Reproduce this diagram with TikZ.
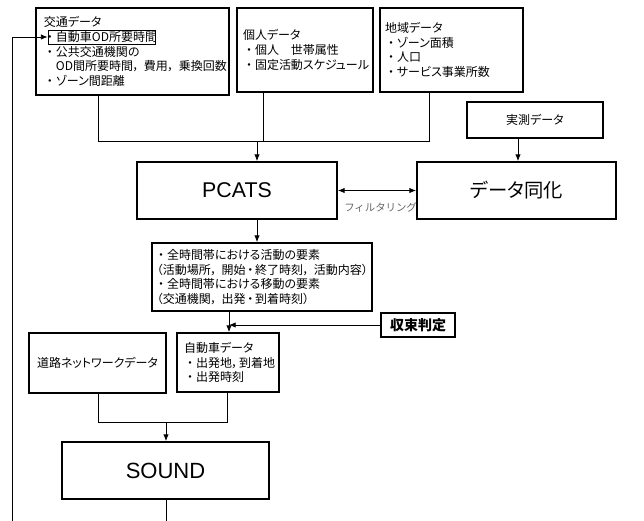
\documentclass[tikz,border=0pt]{standalone}
\usepackage{fontspec}
\setmainfont{Noto Sans CJK JP}[RawFeature=+palt]
\newfontfamily\latinsf{Liberation Sans}
\newfontfamily\jpmono{Noto Sans CJK JP}
\usetikzlibrary{arrows.meta}
\newcommand\bul{\makebox[1em][c]{・}}
\newcommand\cm{\makebox[0.9em][l]{，}}
\newcommand\scm{\makebox[0.6em][l]{，}}
\newcommand\lp{\makebox[0.65em][r]{（}}
\newcommand\rp{\makebox[0.65em][l]{）}}
\newcommand\md{\makebox[0.8em][c]{・}}
\begin{document}
\begin{tikzpicture}[x=0.75pt,y=-0.75pt,
  box/.style={draw, line width=1.4pt, fill=white, inner sep=0pt},
  txt/.style={font=\fontsize{9}{11}\selectfont},
  lbox/.style={box, txt, align=left},
  conn/.style={line width=0.6pt},
  arr/.style={conn, -{Latex[length=5pt,width=4pt]}},
  darr/.style={conn, {Latex[length=5pt,width=4pt]}-{Latex[length=5pt,width=4pt]}}]
\useasboundingbox (0,0) rectangle (644,521);

% input data boxes
\node[lbox, minimum width=144.75pt, minimum height=65.25pt, text width=132.75pt, inner xsep=6pt] (kotsu) at (132.5,51.5)
  {交通データ\\\bul 自動車OD所要時間\\\bul 公共交通機関の\\\hspace*{1em}OD間所要時間\cm 費用\cm 乗換回数\\\bul ゾーン間距離};
\node[draw, line width=0.6pt, minimum width=80.25pt, minimum height=10.5pt, inner sep=0pt] (hl) at (101.5,37) {};
\node[lbox, minimum width=102pt, minimum height=63pt, text width=93pt, inner xsep=4.5pt] (kojin) at (305,50)
  {個人データ\\\bul 個人　世帯属性\\\bul 固定活動スケジュール};
\node[lbox, minimum width=107.25pt, minimum height=63pt, text width=99.75pt, inner xsep=3.75pt] (chiiki) at (451.5,50)
  {地域データ\\\bul ゾーン面積\\\bul 人口\\\bul サービス事業所数};
\node[box, txt, minimum width=102pt, minimum height=27pt] (jissoku) at (535,120) {実測データ};

% models
\node[box, minimum width=150pt, minimum height=42.75pt, font=\latinsf\fontsize{16}{18}\selectfont] (pcats) at (237,190.5) {PCATS};
\node[anchor=west, text=black!60, inner sep=0pt, font=\jpmono\fontsize{7.8}{9}\selectfont] (filt) at (344,208) {フィルタリング};
\node[box, minimum width=149.25pt, minimum height=42.75pt, font=\fontsize{14.5}{16}\selectfont] (doka) at (516.5,190.5) {データ同化};

% output
\node[lbox, minimum width=165pt, minimum height=51pt, text width=160.5pt, inner xsep=2.25pt] (out) at (262,277)
  {\bul 全時間帯における活動の要素\\\lp 活動場所\cm 開始\md 終了時刻\cm 活動内容\rp\\\bul 全時間帯における移動の要素\\\lp 交通機関\cm 出発\md 到着時刻\rp};
\node[draw, line width=0.8pt, fill=white, inner sep=0pt, minimum width=55.5pt, minimum height=18pt, font=\bfseries\fontsize{10.5}{12}\selectfont] (shusoku) at (418,325) {収束判定};

% network data
\node[box, txt, minimum width=102.75pt, minimum height=45pt] (doro) at (97.5,363) {道路ネットワークデータ};
\node[lbox, minimum width=76.5pt, minimum height=44.25pt, text width=66pt, inner xsep=5.25pt] (jidosha) at (228,362.5)
  {自動車データ\\\bul 出発地\scm 到着地\\\bul 出発時刻};
\node[box, minimum width=155.25pt, minimum height=42.75pt, font=\latinsf\fontsize{16.5}{18}\selectfont] (sound) at (165.5,470.5) {SOUND};

% connectors
\coordinate (t1) at (98,141);
\coordinate (t2) at (263,141);
\coordinate (t3) at (429,141);
\coordinate (t0) at (257,141);
\draw[conn] (kotsu.south -| t1) -- (t1) -- (t3) -- (chiiki.south -| t3);
\draw[conn] (kojin.south -| t2) -- (t2);
\draw[arr] (t0) -- (pcats.north -| t0);

\coordinate (ja) at (518,0);
\draw[arr] (jissoku.south -| ja) -- (doka.north -| ja);
\draw[darr] (pcats.east) -- (doka.west);

\coordinate (pa) at (257,0);
\draw[arr] (pcats.south -| pa) -- (out.north -| pa);
\coordinate (oa) at (229,0);
\draw[arr] (out.south -| oa) -- (jidosha.north -| oa);
\draw[arr] (shusoku.west) -- (shusoku.west -| oa);

\coordinate (m1) at (98,422);
\coordinate (m2) at (227,422);
\coordinate (m0) at (166,422);
\draw[conn] (doro.south -| m1) -- (m1) -- (m2) -- (jidosha.south -| m2);
\draw[arr] (m0) -- (sound.north -| m0);

\coordinate (send) at (166,521);
\draw[conn] (sound.south -| send) -- (send);
\coordinate (fb) at (12,521);
\draw[arr] (fb) |- (hl.west);
\end{tikzpicture}
\end{document}
